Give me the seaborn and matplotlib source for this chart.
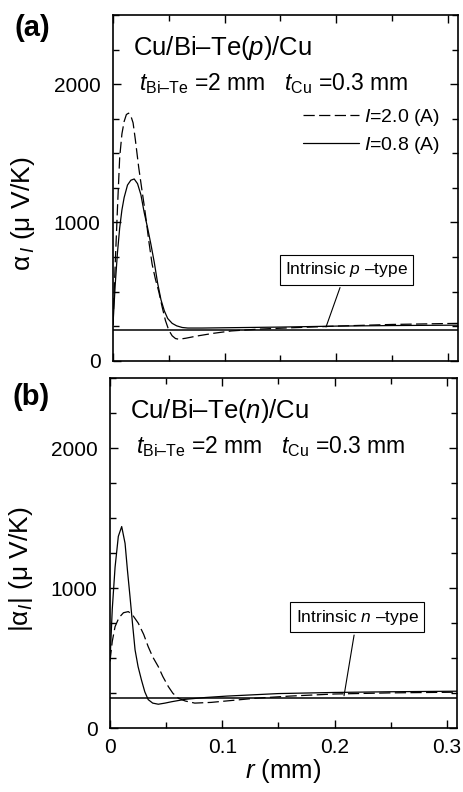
import numpy as np
import pandas as pd
import matplotlib
matplotlib.use("Agg")
import matplotlib.pyplot as plt
from matplotlib.ticker import MultipleLocator, FixedLocator, FixedFormatter
import seaborn as sns

# ---- panel (a): Cu/Bi-Te(p)/Cu ----
r_a_hi = [0.000, 0.002, 0.004, 0.006, 0.008, 0.010, 0.012, 0.014, 0.016, 0.018,
          0.020, 0.023, 0.026, 0.028, 0.030, 0.032, 0.035, 0.038, 0.041, 0.044,
          0.047, 0.050, 0.053, 0.056, 0.059, 0.065, 0.075, 0.090, 0.106, 0.130,
          0.160, 0.200, 0.250, 0.310]
alpha_a_hi = [260, 700, 1100, 1470, 1640, 1730, 1780, 1790, 1770, 1720,
              1600, 1400, 1230, 1120, 1000, 870, 700, 590, 500, 390,
              290, 220, 180, 160, 155, 162, 178, 198, 215, 228,
              238, 250, 262, 270]
r_a_lo = [0.000, 0.002, 0.004, 0.006, 0.008, 0.010, 0.013, 0.016, 0.019, 0.022,
          0.025, 0.028, 0.031, 0.034, 0.037, 0.040, 0.043, 0.046, 0.049, 0.053,
          0.057, 0.062, 0.067, 0.080, 0.100, 0.150, 0.200, 0.250, 0.310]
alpha_a_lo = [260, 550, 780, 960, 1090, 1180, 1270, 1305, 1314, 1280,
              1200, 1070, 960, 840, 710, 560, 440, 360, 305, 270,
              252, 240, 236, 236, 238, 243, 250, 254, 257]
intrinsic_a = 225

# ---- panel (b): Cu/Bi-Te(n)/Cu ----
r_b_hi = [0.000, 0.002, 0.0045, 0.008, 0.012, 0.0163, 0.020, 0.0252, 0.030, 0.034,
          0.038, 0.043, 0.047, 0.052, 0.056, 0.061, 0.067, 0.0755, 0.090, 0.110,
          0.130, 0.160, 0.200, 0.250, 0.310]
alpha_b_hi = [480, 620, 726, 790, 825, 833, 810, 750, 670, 583,
              510, 440, 370, 297, 250, 214, 195, 180, 185, 200,
              215, 230, 245, 253, 258]
r_b_lo = [0.000, 0.002, 0.0045, 0.0074, 0.0104, 0.0134, 0.0155, 0.0178, 0.020, 0.0223,
          0.025, 0.028, 0.031, 0.034, 0.038, 0.043, 0.049, 0.055, 0.067, 0.085,
          0.104, 0.150, 0.200, 0.250, 0.310]
alpha_b_lo = [480, 850, 1150, 1370, 1440, 1320, 1130, 940, 750, 560,
              440, 345, 260, 205, 180, 172, 180, 190, 207, 220,
              230, 248, 256, 261, 265]
intrinsic_b = 213

currents = ["2.0", "0.8"]
x_ticks = [0, 0.1, 0.2, 0.3]
x_ticklabels = ["0", "0.1", "0.2", "0.3"]
y_ticks = [0, 1000, 2000]


def make_df(r_hi, a_hi, r_lo, a_lo):
    d1 = pd.DataFrame({"r": r_hi, "alpha": a_hi, "I": currents[0]})
    d2 = pd.DataFrame({"r": r_lo, "alpha": a_lo, "I": currents[1]})
    return pd.concat([d1, d2], ignore_index=True)


sns.set_style("ticks")
plt.rcParams["font.family"] = ["Liberation Sans", "DejaVu Sans"]
plt.rcParams["mathtext.fontset"] = "custom"
plt.rcParams["mathtext.rm"] = "Liberation Sans"
plt.rcParams["mathtext.it"] = "Liberation Sans:italic"
plt.rcParams["mathtext.bf"] = "Liberation Sans:bold"
for key in ["text.color", "axes.labelcolor", "xtick.color", "ytick.color"]:
    plt.rcParams[key] = "black"

fig = plt.figure(figsize=(4.64, 7.92), dpi=100)
ax_a = fig.add_axes([0.2435, 0.5446, 0.7435, 0.4365])
ax_b = fig.add_axes([0.2371, 0.0804, 0.7478, 0.4423])

dash_map = {"2.0": (9, 3.5), "0.8": ""}

panels = [
    (ax_a, make_df(r_a_hi, alpha_a_hi, r_a_lo, alpha_a_lo), intrinsic_a, "p"),
    (ax_b, make_df(r_b_hi, alpha_b_hi, r_b_lo, alpha_b_lo), intrinsic_b, "n"),
]

for i, (ax, df, intr, kind) in enumerate(panels):
    sns.lineplot(data=df, x="r", y="alpha", style="I", style_order=currents,
                 dashes=dash_map, color="black", lw=0.9, ax=ax,
                 legend=(i == 0), sort=False)
    ax.axhline(intr, color="black", lw=1.1)
    ax.set_xlim(0, 0.309)
    ax.set_ylim(0, 2500)
    ax.xaxis.set_major_locator(FixedLocator(x_ticks))
    ax.xaxis.set_major_formatter(FixedFormatter(x_ticklabels))
    ax.xaxis.set_minor_locator(MultipleLocator(0.05))
    ax.yaxis.set_major_locator(FixedLocator(y_ticks))
    ax.yaxis.set_minor_locator(MultipleLocator(250))
    ax.tick_params(which="both", direction="in", top=True, right=True,
                   width=1.0, labelsize=15)
    ax.tick_params(which="major", length=6)
    ax.tick_params(which="minor", length=4)
    ax.tick_params(axis="y", pad=9)
    ax.tick_params(axis="x", pad=7)
    for s in ax.spines.values():
        s.set_linewidth(1.2)
        s.set_color("black")

    ax.text(0.058, 0.905, "Cu/Bi–Te($\\it{%s}$)/Cu" % kind, transform=ax.transAxes,
            fontsize=18.5, va="center", ha="left")
    ax.text(0.075, 0.803,
            r"$\it{t}$$_{\rm Bi–Te}$ =2 mm   $\it{t}$$_{\rm Cu}$ =0.3 mm",
            transform=ax.transAxes, fontsize=16.5, va="center", ha="left")

ax_a.set_xlabel("")
ax_a.tick_params(labelbottom=False)
ax_a.set_ylabel(r"α$_{\,\it{I}}$ (μ V/K)", fontsize=19)
ax_a.yaxis.set_label_coords(-0.22, 0.426)
ax_b.set_ylabel(r"|α$_{\it{I}}$| (μ V/K)", fontsize=19)
ax_b.yaxis.set_label_coords(-0.216, 0.455)
ax_b.set_xlabel(r"$\it{r}$ (mm)", fontsize=18.5)
ax_b.xaxis.set_label_coords(0.5, -0.083)

leg = ax_a.legend(handles=ax_a.get_legend().legend_handles,
                  labels=[r"$\it{I}$=2.0 (A)", r"$\it{I}$=0.8 (A)"],
                  loc="upper right", bbox_to_anchor=(0.948, 0.733),
                  frameon=False, fontsize=14, handlelength=2.9,
                  labelspacing=0.35, handletextpad=0.25,
                  borderpad=0, borderaxespad=0)

box = dict(boxstyle="square,pad=0.3", fc="white", ec="black", lw=0.8)
ax_a.annotate(r"Intrinsic $\it{p}$ –type", xy=(0.19, intrinsic_a),
              xytext=(0.209, 657), ha="center", va="center", fontsize=12.5,
              bbox=box, arrowprops=dict(arrowstyle="-", lw=0.8, color="black"))
ax_b.annotate(r"Intrinsic $\it{n}$ –type", xy=(0.208, intrinsic_b),
              xytext=(0.220, 793), ha="center", va="center", fontsize=12.5,
              bbox=box, arrowprops=dict(arrowstyle="-", lw=0.8, color="black"))

fig.text(0.069, 0.965, "(a)", fontsize=21, fontweight="bold", ha="center", va="center")
fig.text(0.067, 0.499, "(b)", fontsize=21, fontweight="bold", ha="center", va="center")

fig.savefig("out.png", dpi=100)
